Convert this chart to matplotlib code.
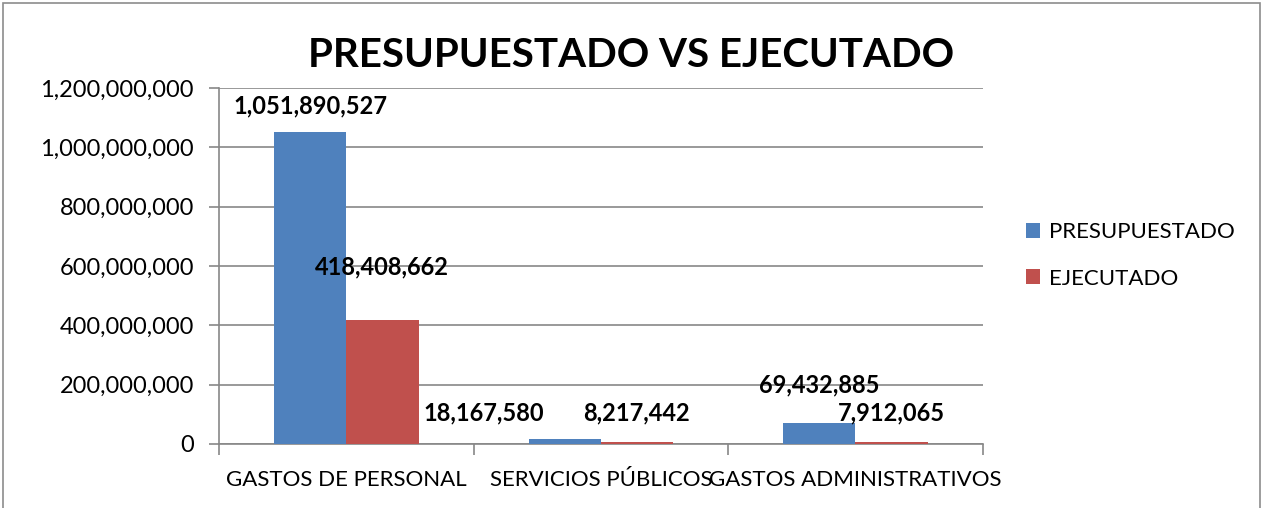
"""Presupuestado vs ejecutado, clustered bars."""

import matplotlib
matplotlib.use("Agg")
import matplotlib.pyplot as plt
import numpy as np
from matplotlib.patches import Rectangle
from matplotlib.ticker import FuncFormatter, MultipleLocator

categories = ["GASTOS DE PERSONAL", "SERVICIOS PÚBLICOS", "GASTOS ADMINISTRATIVOS"]
presupuestado = [1051890527, 18167580, 69432885]
ejecutado = [418408662, 8217442, 7912065]
series_names = ["PRESUPUESTADO", "EJECUTADO"]
title = "PRESUPUESTADO VS EJECUTADO"

# label offsets in pixels (dx, dy) from the top centre of each bar
offsets_p = [(0, 26), (-81, 26), (0, 38)]
offsets_e = [(0, 53), (0, 29), (0, 29)]

BLUE = "#4F81BD"
RED = "#C0504D"
GRID = "#878787"

plt.rcParams["font.family"] = ["Lato", "DejaVu Sans"]

fig = plt.figure(figsize=(12.63, 5.08), dpi=100)
ax = fig.add_axes([0.1734, 0.126, 0.6046, 0.701])

x = np.arange(len(categories))
w = 0.284
bars_p = ax.bar(x - w / 2, presupuestado, w, color=BLUE, label=series_names[0], zorder=3)
bars_e = ax.bar(x + w / 2, ejecutado, w, color=RED, label=series_names[1], zorder=3)

fmt = lambda v: f"{v:,.0f}"
for bars, vals, offs in ((bars_p, presupuestado, offsets_p), (bars_e, ejecutado, offsets_e)):
    for b, v, (dx, dy) in zip(bars, vals, offs):
        ax.annotate(fmt(v), (b.get_x() + b.get_width() / 2, v),
                    xytext=(dx, dy), textcoords="offset pixels",
                    ha="center", va="center", fontsize=17, fontweight="bold",
                    zorder=5)

ax.set_xlim(-0.5, len(categories) - 0.5)
ax.set_ylim(0, 1.2e9)
ax.yaxis.set_major_locator(MultipleLocator(2e8))
ax.yaxis.set_major_formatter(FuncFormatter(lambda v, _: fmt(v)))
ax.grid(True, axis="y", color=GRID, linewidth=1.2, zorder=0)

ax.set_xticks(np.arange(-0.5, len(categories), 1.0))
ax.set_xticklabels([])
ax.set_xticks(x, minor=True)
ax.set_xticklabels(categories, minor=True)
ax.tick_params(axis="x", which="major", length=8, color=GRID, width=1.2)
ax.tick_params(axis="x", which="minor", length=0, pad=19, labelsize=16)
ax.tick_params(axis="y", length=7, color=GRID, width=1.2, labelsize=17, pad=11)

for s in ("top", "right"):
    ax.spines[s].set_visible(False)
for s in ("left", "bottom"):
    ax.spines[s].set_color(GRID)
    ax.spines[s].set_linewidth(1.2)

fig.text(0.5, 0.89, title, ha="center", va="center", fontsize=29, fontweight="bold")

ax.legend(loc="center left", bbox_to_anchor=(1.03, 0.53), frameon=False,
          fontsize=16, handlelength=0.65, handleheight=0.65, handletextpad=0.4,
          labelspacing=1.2)

fig.patches.append(Rectangle((0.002, -0.01), 0.996, 1.005, transform=fig.transFigure,
                             fill=False, edgecolor="#8c8c8c", linewidth=1.2))

plt.savefig("out.png", dpi=100)
